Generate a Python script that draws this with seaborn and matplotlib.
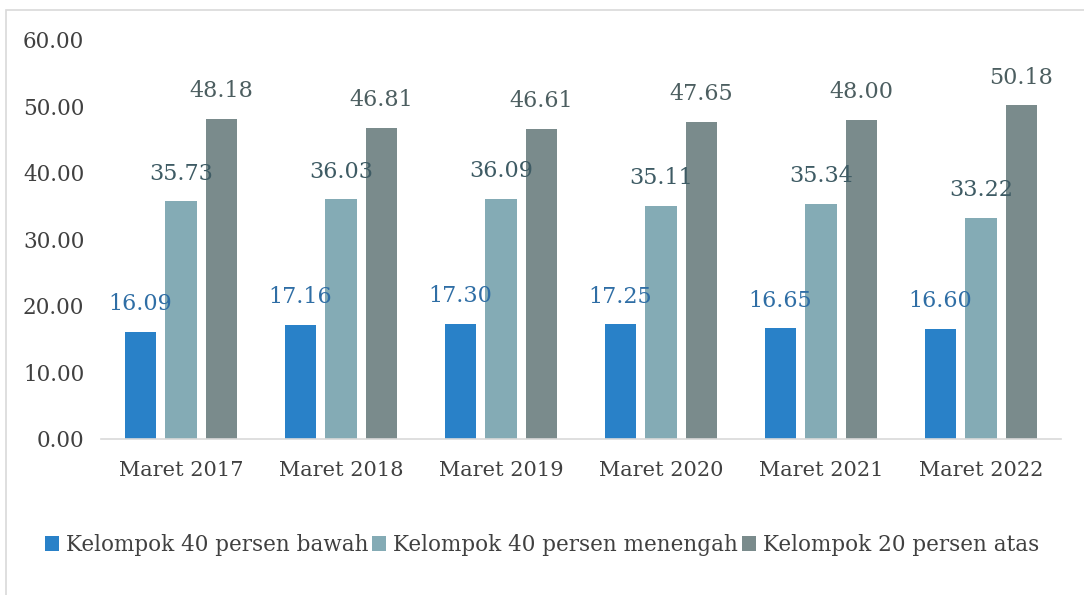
import matplotlib
matplotlib.use("Agg")
import matplotlib.pyplot as plt
import matplotlib.patches as mpatches
import seaborn as sns
import pandas as pd

periods = ["Maret 2017", "Maret 2018", "Maret 2019", "Maret 2020", "Maret 2021", "Maret 2022"]
groups = ["Kelompok 40 persen bawah", "Kelompok 40 persen menengah", "Kelompok 20 persen atas"]
bawah = [16.09, 17.16, 17.30, 17.25, 16.65, 16.60]
menengah = [35.73, 36.03, 36.09, 35.11, 35.34, 33.22]
atas = [48.18, 46.81, 46.61, 47.65, 48.00, 50.18]

bar_colors = ["#2981C8", "#84ABB5", "#7A8B8C"]
label_colors = ["#2F6EA5", "#3E5B64", "#4C5E60"]

df = pd.DataFrame({
    "periode": periods * 3,
    "kelompok": [groups[0]] * 6 + [groups[1]] * 6 + [groups[2]] * 6,
    "nilai": bawah + menengah + atas,
})

sns.set_style("white")
plt.rcParams["font.family"] = ["DejaVu Serif"]

fig = plt.figure(figsize=(10.84, 5.95), dpi=100)
ax = fig.add_axes([0.0932, 0.2622, 0.8856, 0.6706])

sns.barplot(data=df, x="periode", y="nilai", hue="kelompok", order=periods,
            hue_order=groups, palette=bar_colors, width=0.76, gap=0.23,
            saturation=1, errorbar=None, linewidth=0, ax=ax)

for cont, col in zip(ax.containers, label_colors):
    ax.bar_label(cont, fmt="%.2f", padding=12, color=col, fontsize=16)

ax.set_ylim(0, 60)
ax.set_yticks(range(0, 61, 10))
ax.set_yticklabels([f"{v:.2f}" for v in range(0, 61, 10)], fontsize=15.5, color="#404040")
ax.tick_params(axis="y", length=0, pad=12)
ax.tick_params(axis="x", length=0, pad=16, labelsize=15, labelcolor="#404040")
ax.set_xlabel("")
ax.set_ylabel("")
for s in ["top", "right", "left"]:
    ax.spines[s].set_visible(False)
ax.spines["bottom"].set_color("#D9D9D9")
ax.spines["bottom"].set_linewidth(1.2)

ax.legend(loc="center", bbox_to_anchor=(0.5, 1 - 545 / 595), bbox_transform=fig.transFigure,
          ncol=3, frameon=False, fontsize=15.5, handlelength=0.65, handleheight=0.75,
          handletextpad=0.35, columnspacing=0.15, labelcolor="#404040")

# outer frame
fig.patches.append(mpatches.Rectangle((6 / 1084, -0.1), 1.2, 1.1 - 10 / 595,
                                      transform=fig.transFigure, fill=False,
                                      edgecolor="#D9D9D9", linewidth=1.2))

plt.savefig("out.png", dpi=100)
plt.close()
